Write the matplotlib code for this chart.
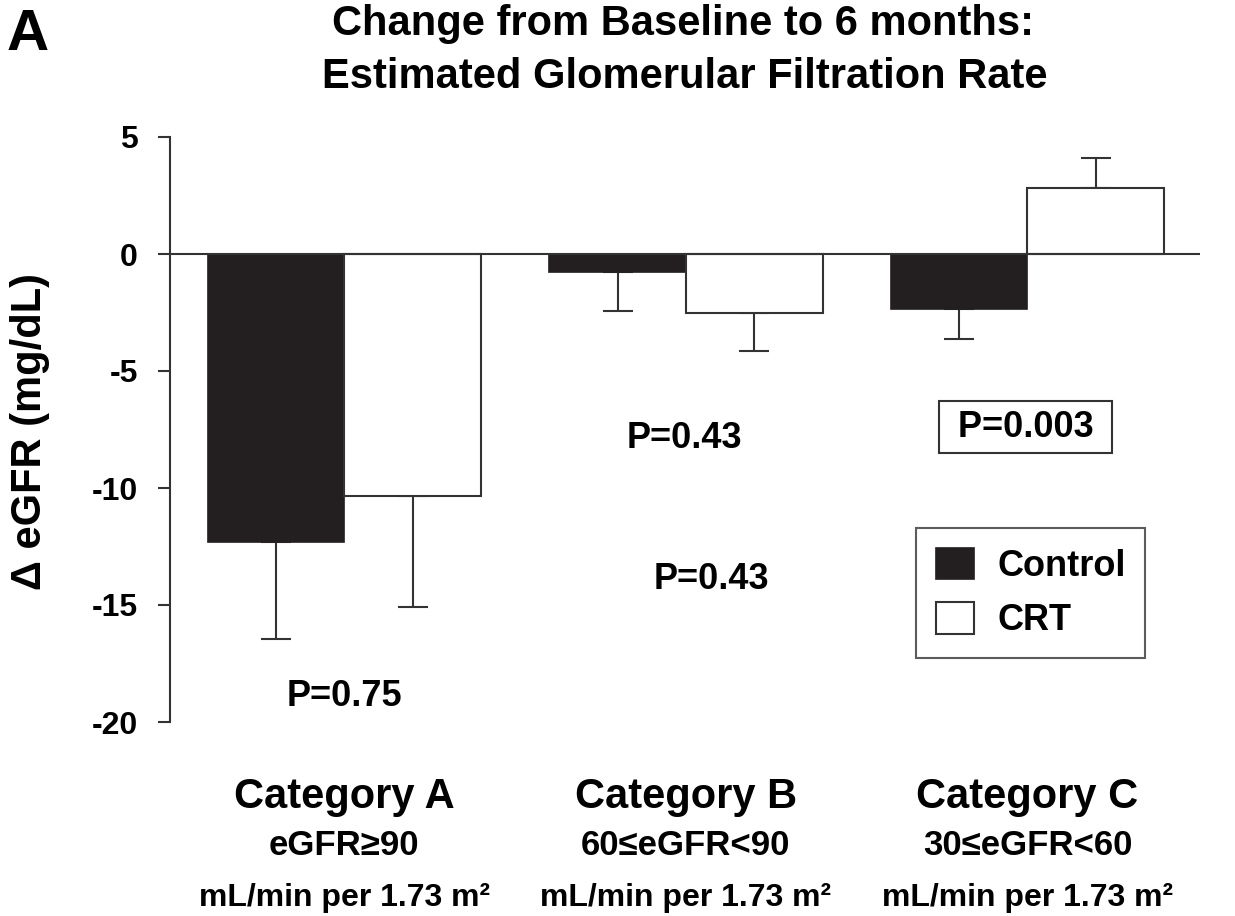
import matplotlib
matplotlib.use("Agg")
import matplotlib.pyplot as plt
import matplotlib.transforms as mtransforms
import numpy as np

plt.rcParams['font.family'] = ['Liberation Sans', 'DejaVu Sans']
plt.rcParams['font.weight'] = 'bold'

categories = ["Category A", "Category B", "Category C"]
ranges = ["eGFR\u226590", "60\u2264eGFR<90", "30\u2264eGFR<60"]
unit = "mL/min per 1.73 m\u00b2"
control = [-12.3, -0.75, -2.35]
control_err = [4.15, 1.7, 1.3]
crt = [-10.35, -2.5, 2.8]
crt_err = [4.75, 1.65, 1.3]
pvals = ["P=0.75", "P=0.43", "P=0.43", "P=0.003"]

DARK = "#231f20"
EDGE = "#333333"
W, H = 1235, 916

fig = plt.figure(figsize=(W / 100, H / 100), dpi=100)
ax = fig.add_axes([170 / W, 1 - 722 / H, 1030 / W, 585 / H])

x = np.arange(len(categories))
w = 0.4
ax.bar(x - w / 2, control, w, color=DARK, edgecolor=DARK, linewidth=1.2, label="Control", zorder=3)
ax.bar(x + w / 2, crt, w, color="white", edgecolor=EDGE, linewidth=1.5, label="CRT", zorder=3)

def one_sided(vals, errs):
    lo = [e if v < 0 else 0 for v, e in zip(vals, errs)]
    hi = [e if v >= 0 else 0 for v, e in zip(vals, errs)]
    return [lo, hi]

ax.errorbar(x - w / 2, control, yerr=one_sided(control, control_err), fmt="none",
            ecolor=EDGE, elinewidth=1.5, capsize=10.5, capthick=1.5, zorder=2)
ax.errorbar(x + w / 2, crt, yerr=one_sided(crt, crt_err), fmt="none",
            ecolor=EDGE, elinewidth=1.5, capsize=10.5, capthick=1.5, zorder=2)

ax.axhline(0, color=EDGE, linewidth=1.5, zorder=4)

ax.set_xlim(-0.51, 2.505)
ax.set_ylim(-20, 5)
ax.set_yticks([5, 0, -5, -10, -15, -20])
ax.set_yticklabels(["5", "0", "-5", "-10", "-15", "-20"])
ax.tick_params(axis="y", length=9, width=1.5, color=EDGE, labelsize=23, pad=14)
ax.set_xticks([])
for s in ["top", "right", "bottom"]:
    ax.spines[s].set_visible(False)
ax.spines["left"].set_color(EDGE)
ax.spines["left"].set_linewidth(1.5)
fig.text(30 / W, 1 - 431 / H, "\u0394 eGFR (mg/dL)", rotation=90, ha="center", va="center",
         fontsize=30, fontweight="bold")

# p-value annotations
ax.text(0, -18.9, pvals[0], ha="center", va="center", fontsize=26)
ax.text(0.995, -7.9, pvals[1], ha="center", va="center", fontsize=26)
ax.text(1.075, -13.9, pvals[2], ha="center", va="center", fontsize=26)
ax.text(1.995, -7.4, " " + pvals[3] + " ", ha="center", va="center", fontsize=26,
        bbox=dict(boxstyle="square,pad=0.24", facecolor="white", edgecolor=EDGE, linewidth=1.5))

# category labels
trans = mtransforms.blended_transform_factory(ax.transData, fig.transFigure)
for i in range(len(categories)):
    ax.text(x[i], 1 - 808 / H, categories[i], transform=trans, ha="center", va="baseline",
            fontsize=30, clip_on=False)
    ax.text(x[i], 1 - 855 / H, ranges[i], transform=trans, ha="center", va="baseline",
            fontsize=25, clip_on=False)
    ax.text(x[i], 1 - 906 / H, unit, transform=trans, ha="center", va="baseline",
            fontsize=23, clip_on=False)

leg = ax.legend(loc="upper left", bbox_to_anchor=(916 / W, 1 - 528 / H),
                bbox_transform=fig.transFigure, fontsize=26, frameon=True, fancybox=False,
                handlelength=1.05, handleheight=0.97, handletextpad=0.65, labelspacing=0.5,
                borderpad=0.55, borderaxespad=0)
leg.get_frame().set_edgecolor(EDGE)
leg.get_frame().set_linewidth(1.5)

fig.text(683 / W, 1 - 35 / H, "Change from Baseline to 6 months:", ha="center", va="baseline", fontsize=30)
fig.text(685 / W, 1 - 88 / H, "Estimated Glomerular Filtration Rate", ha="center", va="baseline", fontsize=30)
fig.text(7 / W, 1 - 50 / H, "A", ha="left", va="baseline", fontsize=42)

fig.savefig("out.png", dpi=100)
